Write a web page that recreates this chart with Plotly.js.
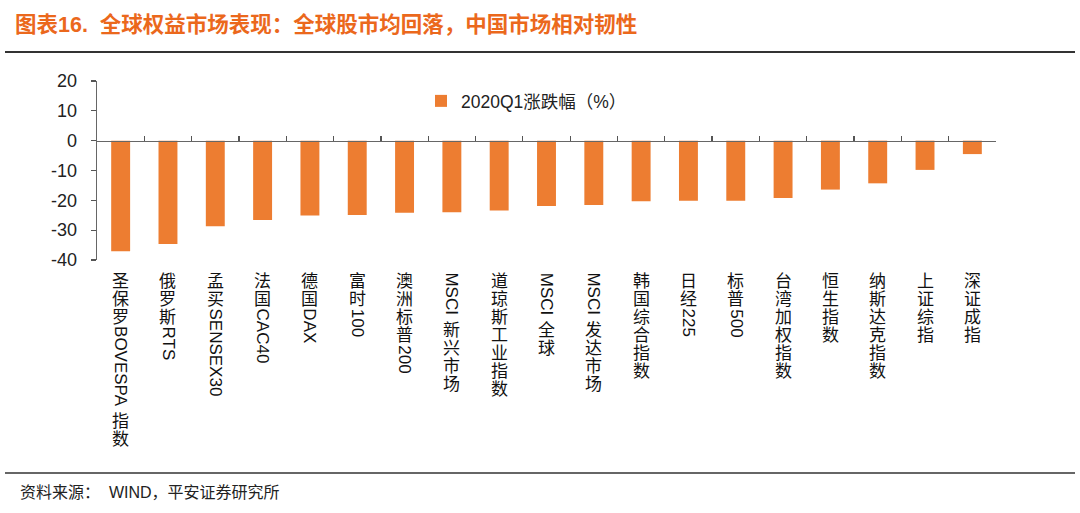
<!DOCTYPE html>
<html>
<head>
<meta charset="utf-8">
<script src="https://cdn.plot.ly/plotly-3.0.1.min.js"></script>
<style>html,body{margin:0;padding:0;background:#fff;}#chart{width:1080px;height:513px;}</style>
</head>
<body>
<div id="chart"></div>
<script>
// ---- data ----
const categories = ["圣保罗BOVESPA 指数","俄罗斯RTS","孟买SENSEX30","法国CAC40","德国DAX","富时100","澳洲标普200","MSCI 新兴市场","道琼斯工业指数","MSCI 全球","MSCI 发达市场","韩国综合指数","日经225","标普500","台湾加权指数","恒生指数","纳斯达克指数","上证综指","深证成指"];
const changeQ1 = [-37.1,-34.6,-28.7,-26.6,-25.1,-24.9,-24.2,-24.0,-23.4,-21.9,-21.6,-20.3,-20.1,-20.1,-19.2,-16.4,-14.3,-9.8,-4.5];
const seriesName = "2020Q1涨跌幅（%）";
const yTickVals = [-40,-30,-20,-10,0,10,20];
const yTickText = ["-40","-30","-20","-10","0","10","20"];
const titleText = "图表16.  全球权益市场表现：全球股市均回落，中国市场相对韧性";
const sourceText = "资料来源：  WIND，平安证券研究所";

// ---- layout constants ----
const W = 1080, H = 513;
const mL = 97, mR = 84, mT = 81, mB = 253;
const plotW = W - mL - mR, plotH = H - mT - mB;
const FONT = "Arial, 'Liberation Sans', 'Noto Sans CJK SC', sans-serif";
const labelSize = 17, cjkPitch = 17.9, spaceGap = 6, labelTop = 13;

const cv = document.createElement('canvas').getContext('2d');
cv.font = labelSize + "px 'Liberation Sans', Arial";
const isCJK = ch => /[\u3000-\u9fff\uff00-\uffef]/.test(ch);

const annotations = [];
categories.forEach(cat => {
  let cursor = 0, run = "";
  const flush = () => {
    if (!run) return;
    const w = cv.measureText(run).width;
    annotations.push({xref:'x', x:cat, yref:'paper', y:0, xanchor:'center', yanchor:'middle',
      yshift: -(labelTop + cursor + w/2), text: run, textangle: 90, showarrow:false,
      font:{family:FONT, size:labelSize, color:'#111'}});
    cursor += w; run = "";
  };
  for (const ch of cat) {
    if (ch === ' ') { flush(); cursor += spaceGap; }
    else if (isCJK(ch)) {
      flush();
      annotations.push({xref:'x', x:cat, yref:'paper', y:0, xanchor:'center', yanchor:'middle',
        yshift: -(labelTop + cursor + cjkPitch/2), text: ch, showarrow:false,
        font:{family:FONT, size:labelSize, color:'#111'}});
      cursor += cjkPitch;
    } else run += ch;
  }
  flush();
});

annotations.push({xref:'paper', yref:'paper', x:(18-mL)/plotW, y:(plotH-(492-mT))/plotH,
  xanchor:'left', yanchor:'middle', text:sourceText, showarrow:false,
  font:{family:FONT, size:16, color:'#222'}});

const trace = {type:'bar', x:categories, y:changeQ1, name:seriesName,
  marker:{color:'#ED7D31', line:{width:0}}, showlegend:true};

const layout = {
  width:W, height:H, margin:{l:mL, r:mR, t:mT, b:mB, pad:0},
  paper_bgcolor:'#fff', plot_bgcolor:'#fff',
  bargap:0.6,
  title:{text:'<b>'+titleText+'</b>', xref:'container', yref:'container', x:15/W, xanchor:'left',
    y:1-24/H, yanchor:'middle', font:{family:FONT, size:21.5, color:'#EB681C'}},
  xaxis:{type:'category', range:[-0.5, categories.length-0.5], anchor:'free', position:40/60,
    showline:true, linecolor:'#666', linewidth:1.3, ticks:'inside', ticklen:5, tickcolor:'#555',
    tickwidth:1.3, tickson:'boundaries', showticklabels:false, showgrid:false, zeroline:false, fixedrange:true},
  yaxis:{range:[-40,20], tickvals:yTickVals, ticktext:yTickText, ticks:'outside', ticklen:5,
    tickcolor:'#555', tickwidth:1.3, showline:true, linecolor:'#666', linewidth:1.3, showgrid:false,
    zeroline:false, ticklabelstandoff:10, tickfont:{family:FONT, size:18, color:'#222'}},
  legend:{orientation:'h', x:(421-mL)/plotW, xanchor:'left', y:(260-101)/plotH, yanchor:'middle',
    font:{family:FONT, size:17.5, color:'#222'}, bgcolor:'rgba(0,0,0,0)'},
  annotations: annotations,
  shapes:[
    {type:'line', xref:'paper', yref:'paper', x0:(5-mL)/plotW, x1:(1075-mL)/plotW,
      y0:(260-52)/plotH, y1:(260-52)/plotH, line:{color:'#333', width:2}},
    {type:'line', xref:'paper', yref:'paper', x0:(5-mL)/plotW, x1:(1075-mL)/plotW,
      y0:(260-473)/plotH, y1:(260-473)/plotH, line:{color:'#333', width:1.5}}
  ]
};
Plotly.newPlot('chart', [trace], layout, {displayModeBar:false, staticPlot:true});
</script>
</body>
</html>
